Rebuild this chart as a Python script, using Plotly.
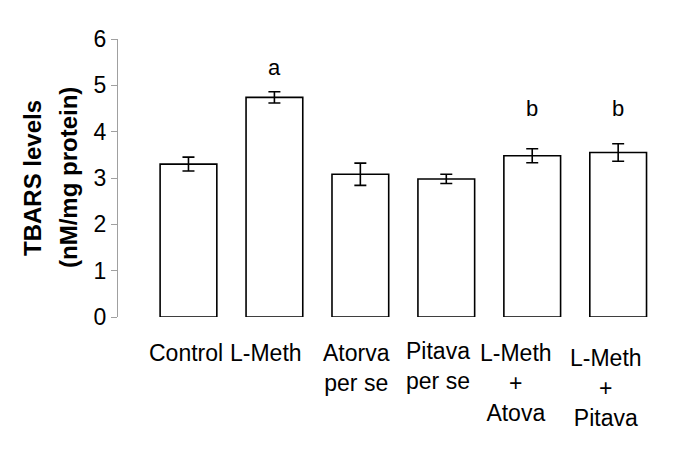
import plotly.graph_objects as go

# groups and TBARS values
groups = ['Control', 'L-Meth', 'Atorva<br>per se', 'Pitava<br>per se',
          'L-Meth<br>+<br>Atova', 'L-Meth<br>+<br>Pitava']
tbars = [3.30, 4.74, 3.08, 2.98, 3.48, 3.55]
sem = [0.15, 0.12, 0.24, 0.10, 0.15, 0.19]
marks = ['', 'a', '', '', 'b', 'b']
mark_y = [0, 5.38, 0, 0, 4.49, 4.49]
y_ticks = [0, 1, 2, 3, 4, 5, 6]

# small label nudges (px) to follow the original layout
lab_dx = [-2, -8, -4, -8, -16, -12]
lab_dy = [0, 0, 0, 2, 0, -5]

font = 'Liberation Sans, Arial, sans-serif'
xs = list(range(len(groups)))

fig = go.Figure()
fig.add_trace(go.Bar(
    x=xs, y=tbars, width=0.66,
    marker=dict(color='white', line=dict(color='black', width=1.6)),
    error_y=dict(type='data', array=sem, color='black', thickness=1.6, width=6),
    showlegend=False,
))

for x, m, my in zip(xs, marks, mark_y):
    if m:
        fig.add_annotation(x=x, y=my, text=m, showarrow=False,
                           font=dict(family=font, size=22, color='black'))

for x, g, dx, dy in zip(xs, groups, lab_dx, lab_dy):
    fig.add_annotation(x=x, y=0, yref='y', text=g, showarrow=False,
                       yanchor='top', yshift=-21 + dy, xshift=dx,
                       font=dict(family=font, size=23, color='black'))

fig.add_annotation(x=0, y=0.5, xref='paper', yref='paper', xanchor='center',
                   text='<b>TBARS levels</b>', textangle=-90, showarrow=False,
                   xshift=-86, font=dict(family=font, size=24, color='black'))
fig.add_annotation(x=0, y=0.5, xref='paper', yref='paper', xanchor='center',
                   text='<b>(nM/mg protein)</b>', textangle=-90, showarrow=False,
                   xshift=-50, font=dict(family=font, size=24, color='black'))

fig.update_xaxes(range=[-0.82, 5.51], showticklabels=False, showline=False,
                 showgrid=False, zeroline=False)
fig.update_yaxes(range=[0, 6], tickvals=y_ticks, showline=True, linecolor='#a0a0a0',
                 linewidth=1, ticks='outside', ticklen=6, tickcolor='#a0a0a0',
                 showgrid=False, zeroline=False,
                 tickfont=dict(family=font, size=23, color='black'))

fig.update_layout(
    width=677, height=442,
    margin=dict(l=110, r=23, t=31, b=133),
    plot_bgcolor='white', paper_bgcolor='white',
    font=dict(family=font, color='black'),
)

fig.write_html('out.html')
